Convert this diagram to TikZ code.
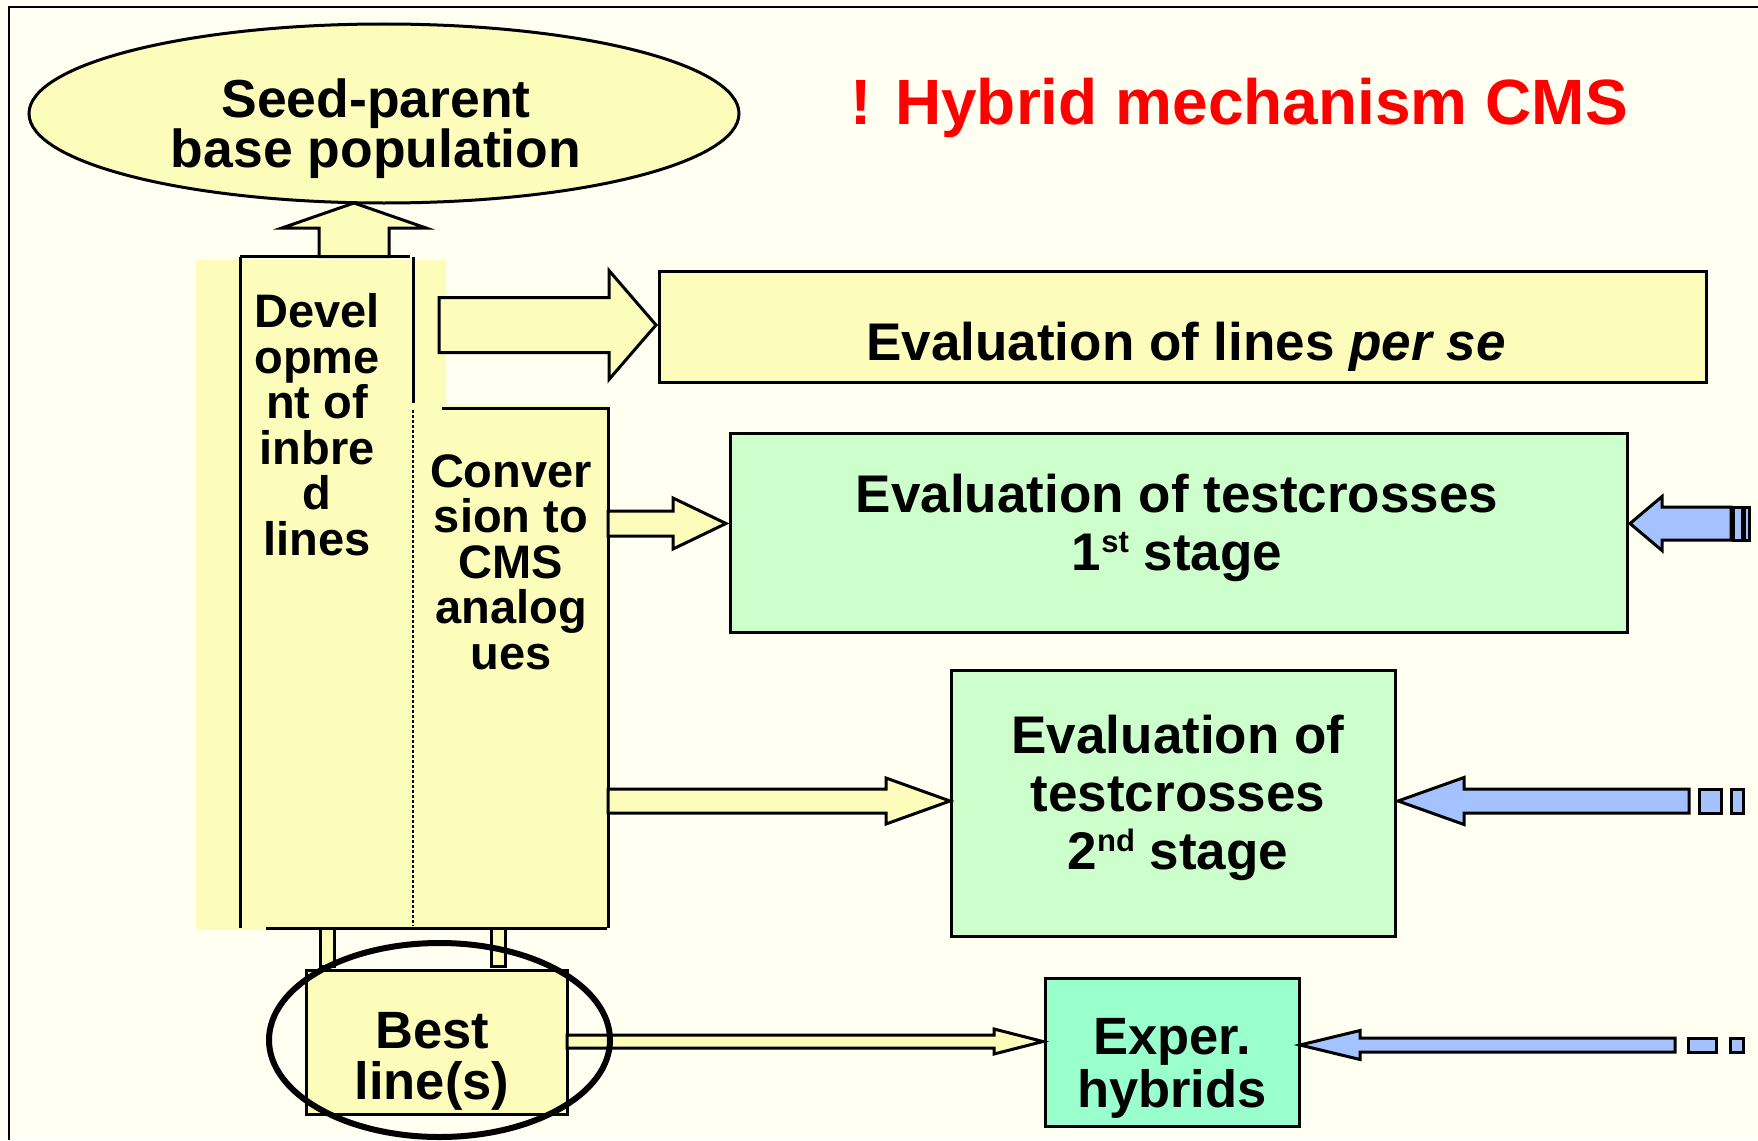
\documentclass[tikz,border=0pt]{standalone}
\usepackage{fontspec}
\setmainfont{Liberation Sans}
\usetikzlibrary{shapes.geometric,calc,fit}
\definecolor{bgc}{RGB}{255,255,242}
\definecolor{ylw}{RGB}{252,252,187}
\definecolor{grnA}{RGB}{204,255,204}
\definecolor{grnB}{RGB}{153,255,204}
\definecolor{blu}{RGB}{163,194,255}
\newcommand{\sups}[1]{\raisebox{0.33em}{\fontsize{31}{31}\selectfont #1}}
\newcommand{\harrowR}[6]{%
 \draw[#1] let \p1=(#2), \p2=(#3) in
 (\x1,\y2+#4) -- (\x2-#6,\y2+#4) -- (\x2-#6,\y2+#5) -- (\x2,\y2) --
 (\x2-#6,\y2-#5) -- (\x2-#6,\y2-#4) -- (\x1,\y2-#4) -- cycle;}
\newcommand{\harrowL}[6]{%
 \draw[#1] let \p1=(#2), \p2=(#3) in
 (\x1,\y2+#4) -- (\x2+#6,\y2+#4) -- (\x2+#6,\y2+#5) -- (\x2,\y2) --
 (\x2+#6,\y2-#5) -- (\x2+#6,\y2-#4) -- (\x1,\y2-#4) -- cycle;}
\tikzset{
 ln/.style={line width=3pt, draw=black},
 box/.style={draw=black, line width=3pt, fill=#1, rectangle, inner sep=0pt},
 yarrow/.style={draw=black, line width=3pt, fill=ylw, line join=miter},
 barrow/.style={draw=black, line width=3pt, fill=blu, line join=miter},
 lbl/.style={align=center, anchor=base, inner sep=0pt,
   font=\bfseries\fontsize{53}{58}\selectfont},
 collbl/.style={align=center, anchor=base, inner sep=0pt,
   font=\bfseries\fontsize{47}{45.5}\selectfont},
}
\begin{document}
\begin{tikzpicture}[x=1pt,y=-1pt]
\useasboundingbox (0,0) rectangle (1758,1140);
\fill[bgc] (0,0) rectangle (1758,1140);
\draw[line width=2pt] (9,1140) -- (9,7) -- (1758,7);

% title
\node[anchor=base west, inner sep=0pt, text=red,
      font=\bfseries\fontsize{64}{70}\selectfont] (title) at (850,124)
      {! Hybrid mechanism CMS};

% seed-parent ellipse
\node[ellipse, draw=black, line width=3pt, fill=ylw, minimum width=710,
      minimum height=179, inner sep=0pt] (seed) at (384,113.5) {};
\node[lbl, font=\bfseries\fontsize{53.5}{50}\selectfont] (seedtxt) at (376,167)
      {Seed-parent\\base population};

% column fill
\fill[ylw] (196,260) -- (446,260) -- (446,405) -- (608,405) -- (608,930)
      -- (196,930) -- cycle;

% up arrow
\coordinate (ubase) at (354,256.5);
\coordinate (utip) at (354,203);
\draw[yarrow] let \p1=(ubase), \p2=(utip) in
  (\x2-35pt,\y1) -- (\x2-35pt,\y2-25pt) -- (\x2-72pt,\y2-25pt) -- (\p2)
  -- (\x2+72pt,\y2-25pt) -- (\x2+35pt,\y2-25pt) -- (\x2+35pt,\y1) -- cycle;

% small connectors to best box
\draw[ln, fill=ylw] (320,928) rectangle (334,966);
\draw[ln, fill=ylw] (491,928) rectangle (505,966);

% column lines
\draw[ln] (240,256.5) -- (410,256.5);
\draw[ln] (240,256.5) -- (240,928);
\draw[ln] (413,256.5) -- (413,403);
\draw[line width=2.5pt, dash pattern=on 3pt off 2pt] (413,410) -- (413,926);
\draw[ln] (442,408) -- (608,408) -- (608,928);
\draw[ln] (266,928) -- (607,928);

\node[collbl] (devtxt) at (317,555) {Devel\\opme\\nt of\\inbre\\d\\lines};
\node[collbl] (convtxt) at (511,669) {Conver\\sion to\\CMS\\analog\\ues};

% boxes
\node[box=ylw, fit={(659,271) (1706,382)}] (perse) {};
\node[lbl] (persetxt) at (1186,360) {Evaluation of lines \textit{per se}};

\node[box=grnA, fit={(730,433) (1627,632)}] (stA) {};
\node[lbl] (stAtxt) at (1177,570) {Evaluation of testcrosses\\1\sups{st} stage};

\node[box=grnA, fit={(951,670) (1395,936)}] (stB) {};
\node[lbl] (stBtxt) at (1178,869) {Evaluation of\\testcrosses\\2\sups{nd} stage};

\node[box=ylw, fit={(306,970) (567,1114)}] (best) {};
\node[lbl, font=\bfseries\fontsize{52.5}{51}\selectfont] (besttxt) at (432,1099) {Best\\line(s)};

\node[box=grnB, fit={(1045,978) (1299,1126)}] (exper) {};
\node[lbl, font=\bfseries\fontsize{52.5}{53}\selectfont] (expertxt) at (1172,1107) {Exper.\\hybrids};

% yellow arrows
\coordinate (a1s) at (439,325);   \coordinate (a1t) at (656,325);
\coordinate (a2s) at (608,523.5); \coordinate (a2t) at (726,523.5);
\coordinate (a3s) at (608,801);   \coordinate (a3t) at (950,801);
\coordinate (a4s) at (567,1041.5);\coordinate (a4t) at (1043,1041.5);
\harrowR{yarrow}{a1s}{a1t}{27.5pt}{54.5pt}{47pt}
\harrowR{yarrow}{a2s}{a2t}{12.5pt}{25.5pt}{53pt}
\harrowR{yarrow}{a3s}{a3t}{12pt}{23pt}{64pt}
\harrowR{yarrow}{a4s}{a4t}{6.5pt}{12.5pt}{49pt}

% blue arrows
\coordinate (b1s) at (1731,523.5); \coordinate (b1t) at (1630,523.5);
\coordinate (b2s) at (1689,801);   \coordinate (b2t) at (1398,801);
\coordinate (b3s) at (1675,1045);  \coordinate (b3t) at (1300,1045);
\harrowL{barrow}{b1s}{b1t}{16.5pt}{27pt}{32pt}
\harrowL{barrow}{b2s}{b2t}{12pt}{23.5pt}{66pt}
\harrowL{barrow}{b3s}{b3t}{7pt}{14.5pt}{60pt}
\draw[barrow] (1733,507) rectangle (1742,540);
\draw[barrow] (1744,507) rectangle (1749,540);
\draw[barrow] (1699,789) rectangle (1721,813);
\draw[barrow] (1731,789) rectangle (1743,813);
\draw[barrow] (1688,1038) rectangle (1716,1052);
\draw[barrow] (1730,1038) rectangle (1743,1052);

% highlight ring
\node[ellipse, draw=black, line width=6pt, minimum width=341,
      minimum height=194, inner sep=0pt] (ring) at (439.5,1040) {};
\end{tikzpicture}
\end{document}
